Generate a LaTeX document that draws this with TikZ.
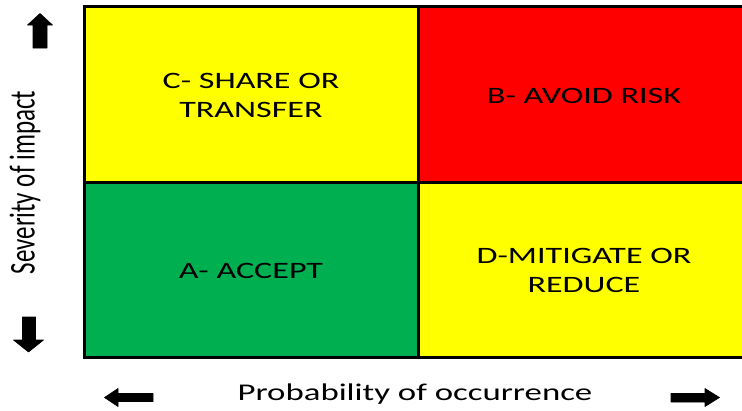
\documentclass[tikz,border=0pt]{standalone}
\usepackage{fontspec}
\setmainfont{Carlito}[FakeStretch=1.45]
\newfontfamily\plainfont{Carlito}
\definecolor{qyellow}{RGB}{255,255,0}
\definecolor{qred}{RGB}{255,0,0}
\definecolor{qgreen}{RGB}{0,176,80}
\tikzset{
  cell/.style={draw=black, line width=3pt, minimum width=334pt, minimum height=175.5pt,
    inner sep=0pt},
  celltext/.style={inner sep=0pt, align=center, font=\fontsize{23.5}{29}\selectfont},
  axislabel/.style={inner sep=0pt, font=\fontsize{24}{29}\selectfont},
  blockarrow/.style={fill=black, draw=black, line width=0.6pt, line join=round}
}
\begin{document}
\begin{tikzpicture}[x=1pt,y=-1pt]
\useasboundingbox (0,0) rectangle (742,410);
\fill[white] (0,0) rectangle (742,410);
\clip (0,0) rectangle (742,410);
% quadrants
\node[cell, fill=qyellow] (C) at (251,94.25) {};
\node[cell, fill=qred] (B) at (585,94.25) {};
\node[cell, fill=qgreen] (A) at (251,269.75) {};
\node[cell, fill=qyellow] (D) at (585,269.75) {};
\node[celltext] (Ct) at ([yshift=-1pt]C.center) {C- SHARE OR\\TRANSFER};
\node[celltext] (Bt) at ([yshift=-1.3pt,xshift=-1pt]B.center) {B- AVOID RISK};
\node[celltext] (At) at ([yshift=-1pt]A.center) {A- ACCEPT};
\node[celltext] (Dt) at ([yshift=-0.5pt,xshift=-1pt]D.center) {D-MITIGATE OR\\REDUCE};
% axis labels
\node[axislabel, rotate=90] (ylab) at (25,182.5) {\scalebox{1}[1.45]{\plainfont\fontsize{25}{30}\selectfont Severity of impact}};
\node[axislabel, anchor=base] (xlab) at (415,400) {Probability of occurrence};
% arrows
\fill[blockarrow] (33,48) -- (33,25) -- (27.5,25) -- (40,13.5) -- (52.5,25) -- (47,25) -- (47,48) -- cycle;
\fill[blockarrow] (22.5,317) -- (22.5,340) -- (13.5,340) -- (28.5,352) -- (43.5,340) -- (35.5,340) -- (35.5,317) -- cycle;
\fill[blockarrow] (153,393.5) -- (118,393.5) -- (118,388.5) -- (104.5,397.5) -- (118,406.5) -- (118,401.5) -- (153,401.5) -- cycle;
\fill[blockarrow] (671,393.5) -- (705,393.5) -- (705,388.5) -- (719.5,397.5) -- (705,406.5) -- (705,402) -- (671,402) -- cycle;
\end{tikzpicture}
\end{document}
